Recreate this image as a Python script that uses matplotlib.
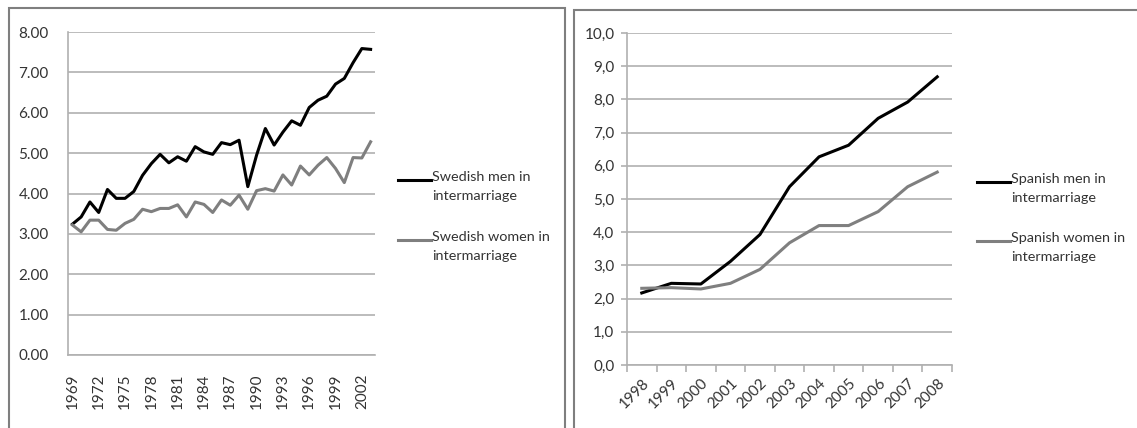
import matplotlib
matplotlib.use("Agg")
import matplotlib.pyplot as plt
from matplotlib.lines import Line2D
from matplotlib.patches import Rectangle
from matplotlib.ticker import FuncFormatter

plt.rcParams["font.family"] = ["Lato", "DejaVu Sans"]

# Sweden, 1969-2003
swe_years = list(range(1969, 2004))
swe_men = [3.24, 3.42, 3.79, 3.53, 4.10, 3.88, 3.88, 4.05, 4.45, 4.74,
           4.97, 4.76, 4.91, 4.80, 5.16, 5.03, 4.97, 5.26, 5.21, 5.32,
           4.17, 4.95, 5.61, 5.20, 5.52, 5.80, 5.69, 6.13, 6.31, 6.41,
           6.71, 6.85, 7.24, 7.59, 7.57]
swe_women = [3.22, 3.05, 3.34, 3.34, 3.11, 3.09, 3.26, 3.36, 3.61, 3.55,
             3.63, 3.63, 3.72, 3.42, 3.79, 3.73, 3.53, 3.84, 3.71, 3.96,
             3.61, 4.07, 4.12, 4.06, 4.46, 4.21, 4.68, 4.46, 4.70, 4.89,
             4.62, 4.27, 4.89, 4.88, 5.28]
swe_labels = ["Swedish men in\nintermarriage", "Swedish women in\nintermarriage"]

# Spain, 1998-2008
esp_years = list(range(1998, 2009))
esp_men = [2.17, 2.46, 2.44, 3.12, 3.93, 5.37, 6.27, 6.62, 7.43, 7.92, 8.68]
esp_women = [2.31, 2.33, 2.29, 2.46, 2.88, 3.68, 4.20, 4.20, 4.62, 5.37, 5.81]
esp_labels = ["Spanish men in\nintermarriage", "Spanish women in\nintermarriage"]

colors = ["#000000", "#7f7f7f"]
text_col = "#333333"
grid_col = "#b0b0b0"
W, H = 1137, 428


def px(x0, y0, x1, y1):
    # pixel box (top-left origin) -> figure fraction [l, b, w, h]
    return [x0 / W, 1 - y1 / H, (x1 - x0) / W, (y1 - y0) / H]


def style_axes(ax, ymax, step):
    ax.set_ylim(0, ymax)
    ax.set_yticks([i * step for i in range(int(round(ymax / step)) + 1)])
    ax.grid(axis="y", color=grid_col, linewidth=1.2)
    ax.set_axisbelow(True)
    for side in ["top", "right"]:
        ax.spines[side].set_visible(False)
    for side in ["left", "bottom"]:
        ax.spines[side].set_color(grid_col)
        ax.spines[side].set_linewidth(1.2)
    ax.tick_params(colors=grid_col, labelcolor=text_col, labelsize=11)


def draw_legend(fig, labels, x0, ys):
    for lab, col, y in zip(labels, colors, ys):
        fig.add_artist(Line2D([x0 / W, (x0 + 33) / W], [1 - y / H, 1 - y / H],
                              color=col, linewidth=2.2, transform=fig.transFigure))
        fig.text((x0 + 34) / W, 1 - (y - 9) / H, lab, ha="left", va="top",
                 fontsize=10.4, color=text_col, linespacing=1.7)


fig = plt.figure(figsize=(W / 100, H / 100), dpi=100)

# panel frames
fig.add_artist(Rectangle((9 / W, -0.1), (565 - 9) / W, 1.1 - 8 / H, fill=False,
                         edgecolor="#7f7f7f", linewidth=1.5, transform=fig.transFigure))
fig.add_artist(Rectangle((574 / W, -0.1), 1.0, 1.1 - 10 / H, fill=False,
                         edgecolor="#7f7f7f", linewidth=1.5, transform=fig.transFigure))

# Swedish panel
ax1 = fig.add_axes(px(68, 32, 375, 355))
xs = range(len(swe_years))
ax1.plot(xs, swe_men, color=colors[0], linewidth=2.2)
ax1.plot(xs, swe_women, color=colors[1], linewidth=2.2)
ax1.set_xlim(-0.5, len(swe_years) - 0.5)
style_axes(ax1, 8, 1)
ax1.yaxis.set_major_formatter(FuncFormatter(lambda v, p: "%.2f" % v))
ax1.set_xticks(list(xs)[::3])
ax1.set_xticklabels([str(y) for y in swe_years[::3]], rotation=90)
ax1.tick_params(axis="x", length=0, pad=13)
ax1.tick_params(axis="y", length=0, pad=14)
draw_legend(fig, swe_labels, 398, [180, 240])

# Spanish panel
ax2 = fig.add_axes(px(627, 33, 952, 365))
xs = range(len(esp_years))
ax2.plot(xs, esp_men, color=colors[0], linewidth=2.2)
ax2.plot(xs, esp_women, color=colors[1], linewidth=2.2)
ax2.set_xlim(-0.5, len(esp_years) - 0.5)
style_axes(ax2, 10, 1)
ax2.yaxis.set_major_formatter(FuncFormatter(lambda v, p: ("%.1f" % v).replace(".", ",")))
ax2.set_xticks(list(xs))
ax2.set_xticklabels([str(y) for y in esp_years], rotation=45, ha="right",
                    rotation_mode="anchor")
ax2.set_xticks([i - 0.5 for i in range(len(esp_years) + 1)], minor=True)
ax2.tick_params(axis="x", which="major", length=0, pad=8)
ax2.tick_params(axis="x", which="minor", length=5, color=grid_col, width=1.2)
ax2.tick_params(axis="y", length=4, width=1.2, pad=5)
draw_legend(fig, esp_labels, 977, [182, 241])

fig.savefig("out.png", dpi=100)
